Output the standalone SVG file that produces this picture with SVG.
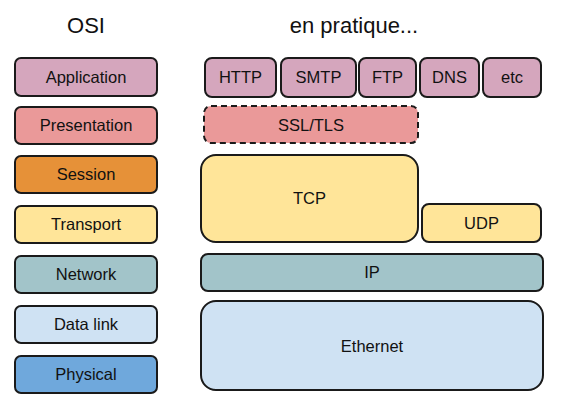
<svg xmlns="http://www.w3.org/2000/svg" width="574" height="414" viewBox="0 0 574 414">
<style>
rect{stroke:#1a1a1a;stroke-width:2}
text{font-family:"Liberation Sans",Arial,sans-serif;font-size:16.5px;fill:#111;text-anchor:middle}
.t{font-size:22px}
.app{fill:#d5a6bd}.pres{fill:#ea9999}.ses{fill:#e69138}.tr{fill:#ffe599}.net{fill:#a2c4c9}.dl{fill:#cfe2f3}.ph{fill:#6fa8dc}
.dash{stroke-dasharray:6 4}
</style>
<text class="t" x="86" y="33">OSI</text>
<text class="t" x="354" y="33">en pratique...</text>
<g id="osi-application"><rect class="app" x="15" y="58" width="142" height="38" rx="6"/><text x="86" y="83">Application</text></g>
<g id="osi-presentation"><rect class="pres" x="15" y="107" width="142" height="37" rx="6"/><text x="86" y="131">Presentation</text></g>
<g id="osi-session"><rect class="ses" x="15" y="156" width="142" height="37" rx="6"/><text x="86" y="180">Session</text></g>
<g id="osi-transport"><rect class="tr" x="15" y="206" width="142" height="37" rx="6"/><text x="86" y="230">Transport</text></g>
<g id="osi-network"><rect class="net" x="15" y="256" width="142" height="37" rx="6"/><text x="86" y="280">Network</text></g>
<g id="osi-datalink"><rect class="dl" x="15" y="306" width="142" height="37" rx="6"/><text x="86" y="330">Data link</text></g>
<g id="osi-physical"><rect class="ph" x="15" y="356" width="142" height="37" rx="6"/><text x="86" y="380">Physical</text></g>
<g id="http"><rect class="app" x="205" y="58" width="71" height="39" rx="7"/><text x="240.5" y="83">HTTP</text></g>
<g id="smtp"><rect class="app" x="281" y="58" width="75" height="39" rx="7"/><text x="318.5" y="83">SMTP</text></g>
<g id="ftp"><rect class="app" x="359" y="58" width="57" height="39" rx="7"/><text x="387.5" y="83">FTP</text></g>
<g id="dns"><rect class="app" x="420" y="58" width="59" height="39" rx="7"/><text x="449.5" y="83">DNS</text></g>
<g id="etc"><rect class="app" x="483" y="58" width="58" height="39" rx="7"/><text x="512" y="83">etc</text></g>
<g id="ssl"><rect class="pres dash" x="204" y="106" width="214" height="37" rx="7"/><text x="311" y="131">SSL/TLS</text></g>
<g id="tcp"><rect class="tr" x="201" y="155" width="217" height="87" rx="15"/><text x="309.5" y="204">TCP</text></g>
<g id="udp"><rect class="tr" x="422" y="204" width="119" height="38" rx="7"/><text x="481.5" y="229">UDP</text></g>
<g id="ip"><rect class="net" x="201" y="254" width="342" height="37" rx="7"/><text x="372" y="278">IP</text></g>
<g id="ethernet"><rect class="dl" x="201" y="301" width="342" height="89" rx="15"/><text x="372" y="352">Ethernet</text></g>
<g id="connectors"></g>
</svg>
